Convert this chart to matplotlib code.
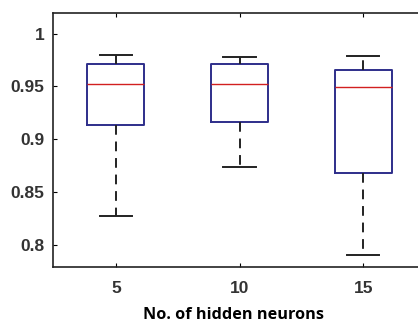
import matplotlib.pyplot as plt

plt.rcParams['font.family'] = ['Liberation Sans', 'DejaVu Sans']

neurons = [5, 10, 15]
whislo = [0.827, 0.8735, 0.790]
q1 = [0.9133, 0.9161, 0.8684]
med = [0.9524, 0.9524, 0.9498]
q3 = [0.9713, 0.9713, 0.9659]
whishi = [0.980, 0.9776, 0.9786]

stats = []
for i in range(len(neurons)):
    stats.append({'whislo': whislo[i], 'q1': q1[i], 'med': med[i],
                  'q3': q3[i], 'whishi': whishi[i], 'fliers': []})

fig = plt.figure(figsize=(4.18, 3.23), dpi=100)
ax = fig.add_axes([53/418, (323-267)/323, (426-53)/418, (267-13)/323])
ax.bxp(stats, positions=neurons, widths=2.3, showfliers=False,
       boxprops=dict(color='#2e2e8a', linewidth=1.4),
       medianprops=dict(color='#d22020', linewidth=1.0),
       whiskerprops=dict(color='#222222', linewidth=1.4, linestyle=(0, (5, 3.5))),
       capprops=dict(color='#222222', linewidth=1.4),
       capwidths=1.3)
ax.set_xlim(2.46, 17.54)
ax.set_ylim(0.779, 1.0196)
ax.set_xticks(neurons)
ax.set_xticklabels([str(n) for n in neurons])
ax.set_yticks([0.8, 0.85, 0.9, 0.95, 1])
ax.set_yticklabels(['0.8', '0.85', '0.9', '0.95', '1'])
ax.tick_params(direction='in', top=True, right=True, length=3, labelsize=12.5)
ax.tick_params(axis='x', pad=10)
ax.tick_params(axis='y', pad=6)
for lab in ax.get_xticklabels() + ax.get_yticklabels():
    lab.set_fontweight('bold')
    lab.set_color('#333333')
for s in ax.spines.values():
    s.set_linewidth(1.2)
    s.set_color('#222222')
ax.set_xlabel('No. of hidden neurons', fontsize=11.7, fontweight='bold',
              family=['Open Sans', 'DejaVu Sans'])
ax.xaxis.set_label_coords(0.483, -0.157)
fig.savefig('out.png', dpi=100)
